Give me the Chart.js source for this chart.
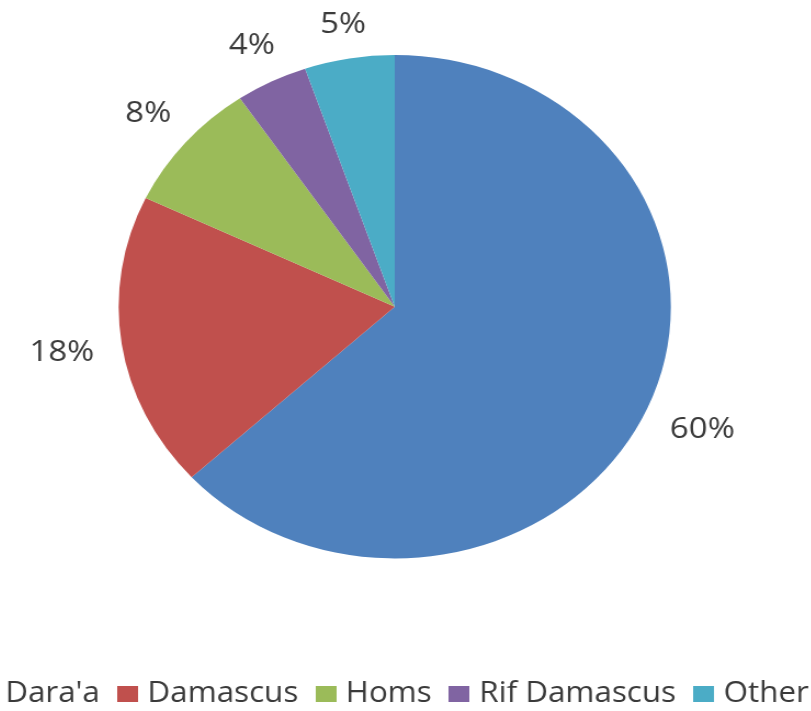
<!DOCTYPE html>
<html>
<head>
<meta charset="utf-8">
<script src="https://cdn.jsdelivr.net/npm/chart.js@4/dist/chart.umd.min.js"></script>
<style>
  html, body { margin: 0; padding: 0; background: #ffffff; overflow: hidden; width: 811px; height: 711px; }
  #wrap { position: absolute; left: -65.7px; top: 0; width: 840px; height: 718px;
          transform: scaleX(1.097); transform-origin: 0 0; }
  canvas { display: block; }
</style>
</head>
<body>
<div id="wrap"><canvas id="pie" width="840" height="718"></canvas></div>
<script>
// Share of cases by governorate (percent)
const regions = ["Dara'a", "Damascus", "Homs", "Rif Damascus", "Other"];
const shares = [60, 18, 8, 4, 5];
const sliceColors = ["#4F81BD", "#C0504D", "#9BBB59", "#8064A2", "#4BACC6"];

const TEXT_COLOR = "#3a3a3a";
const FONT_FAMILY = "'Open Sans', sans-serif";

// Solid legend swatch, drawn as an image so it can sit close to its text
function swatch(color) {
  const c = document.createElement("canvas");
  c.width = 19; c.height = 16;
  const g = c.getContext("2d");
  g.fillStyle = color;
  g.fillRect(0, 0, c.width, c.height);
  return c;
}

// Percentage labels just outside each slice
const outsideLabels = {
  id: "outsideLabels",
  afterDatasetsDraw(chart) {
    const ctx = chart.ctx;
    const meta = chart.getDatasetMeta(0);
    const values = chart.data.datasets[0].data;
    ctx.save();
    ctx.font = "30px " + FONT_FAMILY;
    ctx.fillStyle = TEXT_COLOR;
    ctx.textAlign = "center";
    ctx.textBaseline = "middle";
    meta.data.forEach((arc, i) => {
      const p = arc.getProps(["x", "y", "startAngle", "endAngle", "outerRadius"], true);
      const mid = (p.startAngle + p.endAngle) / 2;
      const text = values[i] + "%";
      const w = ctx.measureText(text).width;
      const h = 12;
      const cs = Math.cos(mid), sn = Math.sin(mid);
      const r = p.outerRadius + 25 + Math.abs(cs) * w / 2 + Math.abs(sn) * h / 2;
      ctx.fillText(text, p.x + cs * r, p.y + sn * r);
    });
    ctx.restore();
  }
};

new Chart(document.getElementById("pie"), {
  type: "pie",
  data: {
    labels: regions,
    datasets: [{
      data: shares,
      backgroundColor: sliceColors,
      borderWidth: 0,
      hoverOffset: 0
    }]
  },
  options: {
    responsive: false,
    animation: false,
    devicePixelRatio: 1,
    layout: { padding: { top: 55, bottom: 0, left: 0, right: 0 } },
    plugins: {
      tooltip: { enabled: false },
      legend: {
        position: "bottom",
        title: { display: true, text: "", padding: { top: 88, bottom: 0 }, font: { size: 10 } },
        labels: {
          padding: 21,
          usePointStyle: true,
          pointStyleWidth: 8,
          boxHeight: 16,
          color: TEXT_COLOR,
          font: { family: FONT_FAMILY, size: 28.6 },
          generateLabels: (chart) => chart.data.labels.map((t, i) => ({
            text: t,
            fillStyle: sliceColors[i],
            strokeStyle: sliceColors[i],
            lineWidth: 0,
            pointStyle: swatch(sliceColors[i]),
            fontColor: TEXT_COLOR,
            hidden: false,
            index: i
          }))
        }
      }
    }
  },
  plugins: [outsideLabels]
});
</script>
</body>
</html>
